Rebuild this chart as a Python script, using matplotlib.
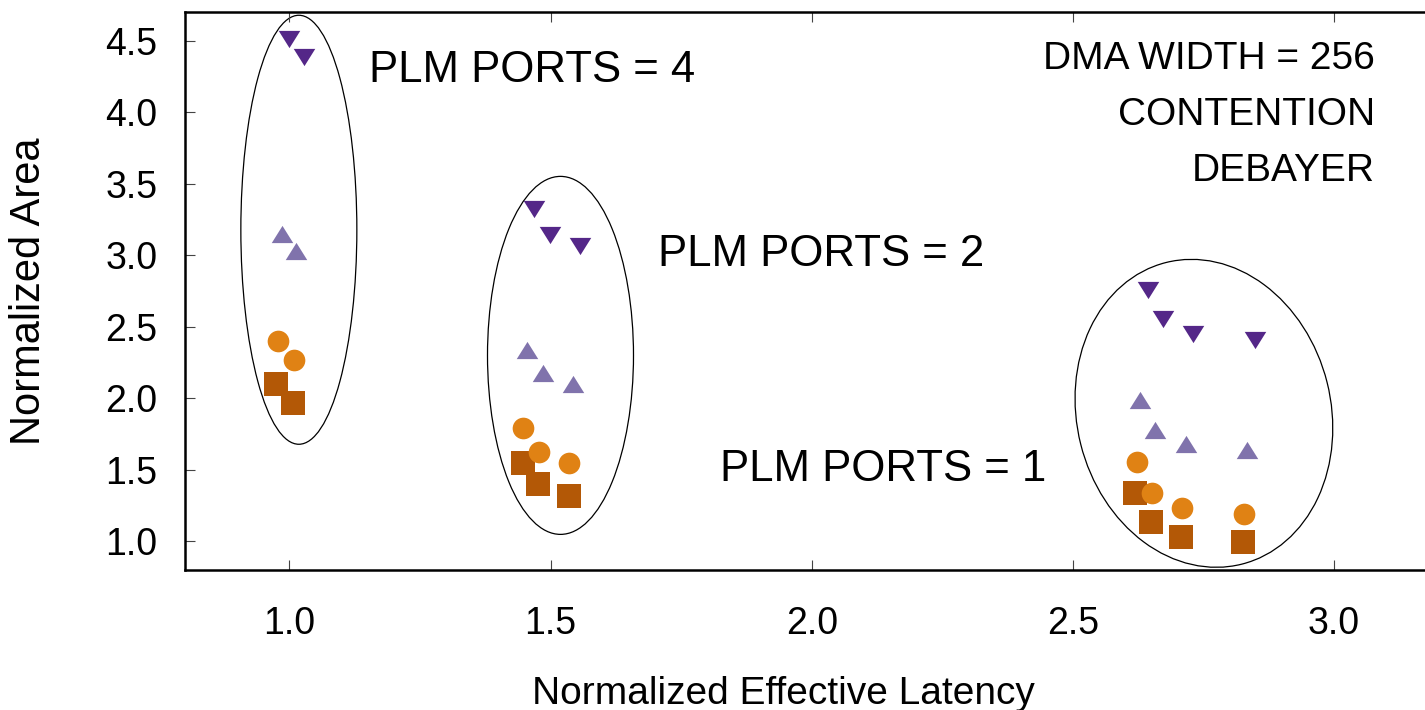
import matplotlib
matplotlib.use('Agg')
import matplotlib.pyplot as plt
import matplotlib.transforms as mtransforms
from matplotlib.patches import Ellipse
from matplotlib.path import Path

plt.rcParams['font.family'] = ['Liberation Sans', 'DejaVu Sans']

# normalized effective latency / normalized area, one list per marker series
lat_down = [1.000, 1.027, 1.469, 1.498, 1.557, 2.643, 2.672, 2.731, 2.849]
area_down = [4.51, 4.385, 3.32, 3.14, 3.065, 2.76, 2.557, 2.452, 2.406]

lat_up = [0.985, 1.013, 1.454, 1.485, 1.543, 2.628, 2.658, 2.716, 2.834]
area_up = [3.15, 3.03, 2.335, 2.18, 2.10, 1.99, 1.78, 1.683, 1.636]

lat_sq = [0.975, 1.006, 1.447, 1.476, 1.535, 2.619, 2.650, 2.707, 2.826]
area_sq = [2.10, 1.97, 1.545, 1.40, 1.32, 1.34, 1.138, 1.033, 0.998]

lat_circ = [0.979, 1.008, 1.448, 1.478, 1.536, 2.622, 2.651, 2.710, 2.828]
area_circ = [2.40, 2.265, 1.79, 1.625, 1.55, 1.552, 1.338, 1.235, 1.19]

ports_labels = ['PLM PORTS = 4', 'PLM PORTS = 2', 'PLM PORTS = 1']
ports_label_xy = [(1.153, 4.29), (1.705, 3.005), (1.824, 1.50)]
ellipse_centers = [(1.018, 3.178), (1.519, 2.30), (2.751, 1.895)]

info_lines = ['DMA WIDTH = 256', 'CONTENTION', 'DEBAYER']

xticks = [1.0, 1.5, 2.0, 2.5, 3.0]
yticks = [1.0, 1.5, 2.0, 2.5, 3.0, 3.5, 4.0, 4.5]

W, H = 1425, 710
fig = plt.figure(figsize=(W / 100, H / 100), dpi=100)
# plot box runs a little past the right edge of the canvas
ax = fig.add_axes([185 / W, 140 / H, 1253.4 / W, 558 / H])
ax.set_xlim(0.8, 3.2)
ax.set_ylim(0.8, 4.7)

# flatter triangles, like gnuplot's
tri_up = Path([(-1, -0.8), (1, -0.8), (0, 0.8), (-1, -0.8)], closed=True)
tri_down = Path([(-1, 0.8), (1, 0.8), (0, -0.8), (-1, 0.8)], closed=True)

ax.plot(lat_down, area_down, ls='none', marker=tri_down, ms=15.5,
        color='#542788', mew=0)
ax.plot(lat_up, area_up, ls='none', marker=tri_up, ms=15.5,
        color='#8073ac', mew=0)
ax.plot(lat_sq, area_sq, ls='none', marker='s', ms=16.8,
        color='#b35806', mew=0)
ax.plot(lat_circ, area_circ, ls='none', marker='o', ms=15.6,
        color='#e08214', mew=0)

# group outlines, sized in inches around a data-space centre
ell_sizes = [(1.16, 4.29, 0), (1.46, 3.58, 0), (2.54, 3.11, 14.1)]
for (cx, cy), (w, h, ang) in zip(ellipse_centers, ell_sizes):
    tr = fig.dpi_scale_trans + mtransforms.ScaledTranslation(cx, cy, ax.transData)
    ax.add_patch(Ellipse((0, 0), w, h, angle=ang, transform=tr,
                         fill=False, ec='black', lw=0.9))

for lab, (tx, ty) in zip(ports_labels, ports_label_xy):
    ax.text(tx, ty, lab, fontsize=31.5, ha='left', va='center')

for i, line in enumerate(info_lines):
    ax.text(3.079, 4.375 - i * 0.392, line, fontsize=28, ha='right', va='center')

ax.set_xticks(xticks)
ax.set_xticklabels(['%.1f' % v for v in xticks])
ax.set_yticks(yticks)
ax.set_yticklabels(['%.1f' % v for v in yticks])
ax.tick_params(direction='in', length=7, width=0.8, color='#444444',
               labelsize=27, top=True, right=True)
ax.tick_params(axis='x', pad=26)
ax.tick_params(axis='y', pad=20)
for s in ax.spines.values():
    s.set_linewidth(1.8)

fig.text(29 / W, 1 - 291 / H, 'Normalized Area', rotation=90,
         fontsize=30, ha='center', va='center')
fig.text(783 / W, 6 / H, 'Normalized Effective Latency',
         fontsize=28, ha='center', va='baseline')

fig.savefig('out.png', dpi=100)
